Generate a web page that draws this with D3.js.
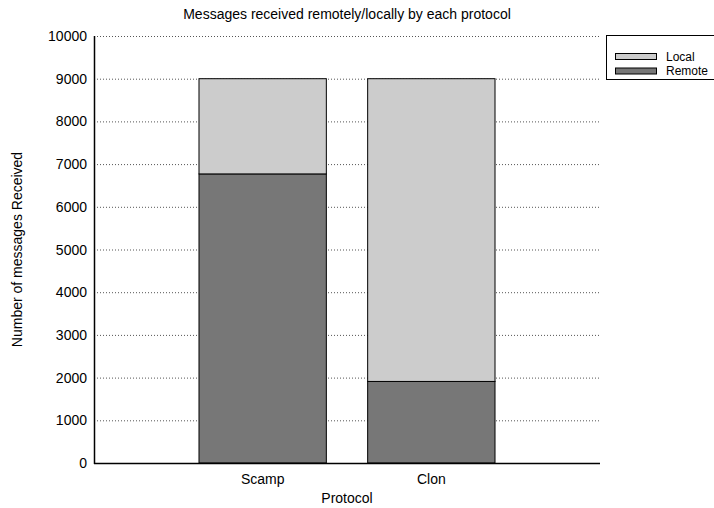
<!DOCTYPE html>
<html>
<head>
<meta charset="utf-8">
<script src="https://cdn.jsdelivr.net/npm/d3@7"></script>
<style>
body { margin: 0; background: #fff; }
text { font-family: "Liberation Sans", Arial, sans-serif; fill: #000; }
</style>
</head>
<body>
<div class="canva"></div>
<script>
// data
const protocols = ['Scamp', 'Clon'];
const remote = [6770, 1910];
const local = [2230, 7090];
const yTicks = [0, 1000, 2000, 3000, 4000, 5000, 6000, 7000, 8000, 9000, 10000];
const seriesNames = ['Local', 'Remote'];
const seriesColors = ['#cccccc', '#777777'];

const svg = d3.select('.canva').append('svg')
  .attr('width', 714)
  .attr('height', 508);

const pLeft = 94, pRight = 600, pTop = 36, pBottom = 463;
const fs = 14;

const y = d3.scaleLinear().domain([0, 10000]).range([pBottom, pTop]);
const x = d3.scaleLinear().domain([0, protocols.length + 1]).range([pLeft, pRight]);
const barW = (x(1) - x(0)) * 0.755;

// grid lines
svg.append('g')
  .selectAll('line')
  .data(yTicks.filter(d => d > 0))
  .enter()
  .append('line')
  .attr('x1', pLeft)
  .attr('x2', pRight)
  .attr('y1', d => y(d) + 0.5)
  .attr('y2', d => y(d) + 0.5)
  .attr('stroke', '#555')
  .attr('stroke-width', 1)
  .attr('stroke-dasharray', '1,2');

// y tick labels
svg.append('g')
  .selectAll('text')
  .data(yTicks)
  .enter()
  .append('text')
  .attr('x', pLeft - 7)
  .attr('y', d => y(d) + 5)
  .attr('text-anchor', 'end')
  .attr('font-size', fs)
  .text(d => d);

// bars - remote unten, local oben
const groups = svg.append('g')
  .selectAll('g')
  .data(protocols)
  .enter()
  .append('g');

groups.append('rect')
  .attr('x', (d, i) => x(i + 1) - barW / 2)
  .attr('y', (d, i) => y(remote[i]))
  .attr('width', barW)
  .attr('height', (d, i) => y(0) - y(remote[i]))
  .attr('fill', seriesColors[1])
  .attr('stroke', '#000')
  .attr('stroke-width', 1);

groups.append('rect')
  .attr('x', (d, i) => x(i + 1) - barW / 2)
  .attr('y', (d, i) => y(remote[i] + local[i]))
  .attr('width', barW)
  .attr('height', (d, i) => y(remote[i]) - y(remote[i] + local[i]))
  .attr('fill', seriesColors[0])
  .attr('stroke', '#000')
  .attr('stroke-width', 1);

// x labels
groups.append('text')
  .attr('x', (d, i) => x(i + 1))
  .attr('y', pBottom + 21)
  .attr('text-anchor', 'middle')
  .attr('font-size', fs)
  .text(d => d);

// axes
svg.append('line')
  .attr('x1', pLeft + 0.5).attr('x2', pLeft + 0.5)
  .attr('y1', pTop).attr('y2', pBottom + 1)
  .attr('stroke', '#000').attr('stroke-width', 1.5);
svg.append('line')
  .attr('x1', pLeft).attr('x2', pRight)
  .attr('y1', pBottom + 0.5).attr('y2', pBottom + 0.5)
  .attr('stroke', '#000').attr('stroke-width', 1.5);

// titles
svg.append('text')
  .attr('x', (pLeft + pRight) / 2)
  .attr('y', 19)
  .attr('text-anchor', 'middle')
  .attr('font-size', fs)
  .text('Messages received remotely/locally by each protocol');

svg.append('text')
  .attr('x', (pLeft + pRight) / 2)
  .attr('y', pBottom + 40)
  .attr('text-anchor', 'middle')
  .attr('font-size', fs)
  .text('Protocol');

svg.append('text')
  .attr('transform', 'translate(22,' + ((pTop + pBottom) / 2) + ') rotate(-90)')
  .attr('text-anchor', 'middle')
  .attr('font-size', fs)
  .text('Number of messages Received');

// legend
svg.append('rect')
  .attr('x', 606.5).attr('y', 35.5)
  .attr('width', 120).attr('height', 44)
  .attr('fill', '#fff')
  .attr('stroke', '#000').attr('stroke-width', 1);

const leg = svg.append('g')
  .selectAll('g')
  .data(seriesNames)
  .enter()
  .append('g');

leg.append('rect')
  .attr('x', 615.5)
  .attr('y', (d, i) => 53.5 + i * 14.5)
  .attr('width', 41)
  .attr('height', 6)
  .attr('fill', (d, i) => seriesColors[i])
  .attr('stroke', '#000').attr('stroke-width', 1);

leg.append('text')
  .attr('x', 666)
  .attr('y', (d, i) => 60.5 + i * 14.5)
  .attr('font-size', 12)
  .text(d => d);
</script>
</body>
</html>
